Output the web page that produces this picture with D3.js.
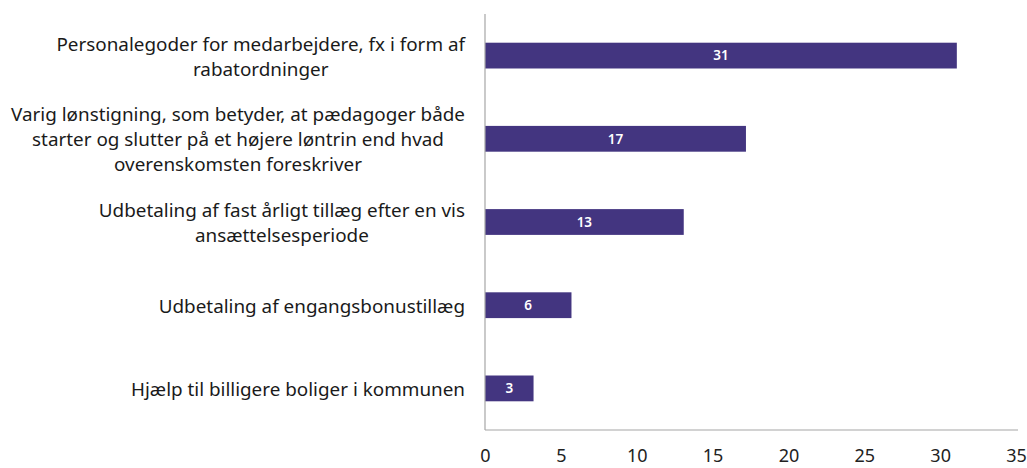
<!DOCTYPE html>
<html>
<head>
<meta charset="utf-8">
<script src="https://cdn.jsdelivr.net/npm/d3@7"></script>
<style>
  body { margin: 0; background: #fff; }
  svg text { font-family: "Noto Sans", "Open Sans", sans-serif; }
</style>
</head>
<body>
<svg width="1027" height="468"></svg>
<script>
// categories, one entry per bar (lines as wrapped in the original)
const categories = [
  ["Personalegoder for medarbejdere, fx i form af", "rabatordninger"],
  ["Varig lønstigning, som betyder, at pædagoger både", "starter og slutter på et højere løntrin end hvad", "overenskomsten foreskriver"],
  ["Udbetaling af fast årligt tillæg efter en vis", "ansættelsesperiode"],
  ["Udbetaling af engangsbonustillæg"],
  ["Hjælp til billigere boliger i kommunen"]
];
const values = [31.1, 17.2, 13.1, 5.7, 3.2];
const labels = ["31", "17", "13", "6", "3"];
const xTicks = [0, 5, 10, 15, 20, 25, 30, 35];

const svg = d3.select("svg");
const plotL = 485, plotR = 1016, plotT = 14, plotB = 430;

const x = d3.scaleLinear().domain([0, 35]).range([plotL, plotR]);
const y = d3.scaleBand().domain(d3.range(categories.length)).range([plotT, plotB]).paddingInner(0.69).paddingOuter(0.345);

// bars
svg.selectAll("rect.bar")
  .data(values)
  .enter()
  .append("rect")
  .attr("class", "bar")
  .attr("x", x(0))
  .attr("y", (d, i) => y(i))
  .attr("width", d => x(d) - x(0))
  .attr("height", y.bandwidth())
  .attr("fill", "#433580");

// value labels
svg.selectAll("text.val")
  .data(values)
  .enter()
  .append("text")
  .attr("class", "val")
  .attr("x", d => (x(0) + x(d)) / 2)
  .attr("y", (d, i) => y(i) + y.bandwidth() / 2)
  .attr("dy", "0.36em")
  .attr("text-anchor", "middle")
  .attr("fill", "#fff")
  .attr("font-size", 13.5)
  .attr("font-weight", 600)
  .text((d, i) => labels[i]);

// axes
const xAxis = d3.axisBottom(x).tickValues(xTicks).tickSize(0).tickPadding(19);
const gx = svg.append("g").attr("transform", `translate(0,${plotB})`).call(xAxis);
gx.select(".domain").attr("stroke", "#a6a6a6").attr("stroke-width", 1.2).attr("d", `M${plotL},0H${plotR + 2}`);
gx.selectAll("text").attr("font-size", 18).attr("fill", "#222").attr("font-family", "'Noto Sans', 'Open Sans', sans-serif");

svg.append("line")
  .attr("x1", plotL).attr("x2", plotL)
  .attr("y1", plotT).attr("y2", plotB)
  .attr("stroke", "#a6a6a6").attr("stroke-width", 1.2);

// category labels: lines centred on each other, block right-aligned
const lineH = 25;
const labelRight = 465;
const labelGroups = categories.map((lines, i) => {
  const cy = y(i) + y.bandwidth() / 2 + 1;
  return svg.append("g").selectAll("text")
    .data(lines)
    .enter()
    .append("text")
    .attr("font-size", 17)
    .attr("fill", "#1a1a1a")
    .attr("text-anchor", "middle")
    .attr("y", (d, j) => cy + (j - (lines.length - 1) / 2) * lineH)
    .attr("dy", "0.35em")
    .text(d => d);
});
// fit font so the widest line spans like the original (~454px)
let maxW = 0;
labelGroups.forEach(t => t.each(function() { maxW = Math.max(maxW, this.getComputedTextLength()); }));
const fs = 17 * 454 / maxW;
labelGroups.forEach(t => {
  t.attr("font-size", fs);
  let w = 0;
  t.each(function() { w = Math.max(w, this.getComputedTextLength()); });
  t.attr("x", labelRight - w / 2);
});
</script>
</body>
</html>
